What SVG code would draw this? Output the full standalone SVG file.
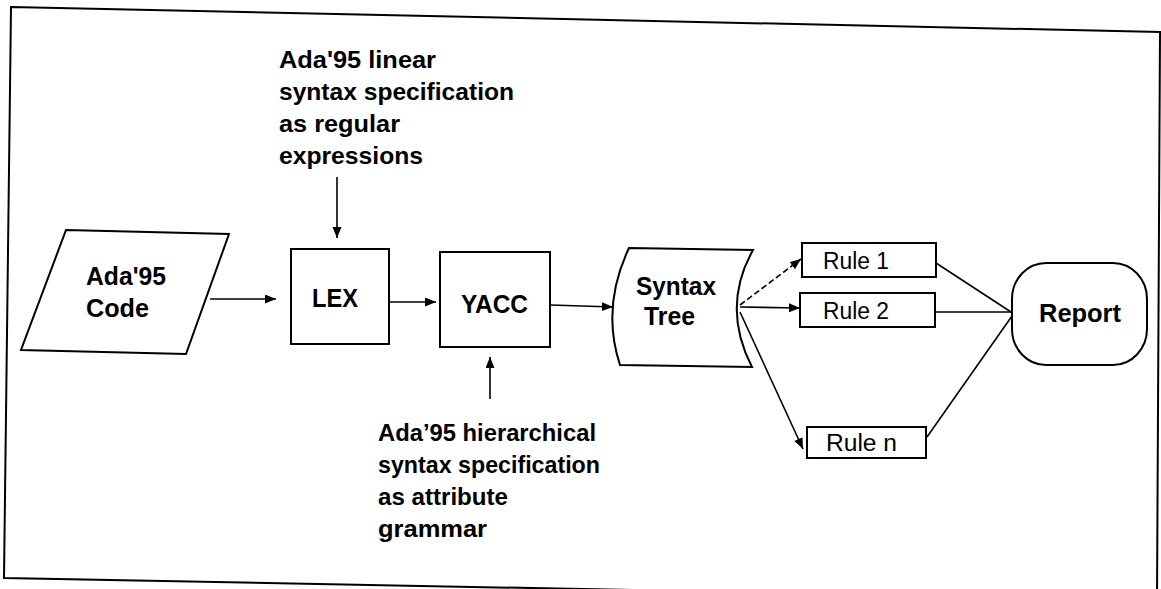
<svg xmlns="http://www.w3.org/2000/svg" width="1161" height="589" viewBox="0 0 1161 589">
<defs>
<style>
.shape{fill:#fff;stroke:#000;stroke-width:2}
.lbl{font-family:"Liberation Sans",Arial,sans-serif;font-weight:bold;font-size:25px;fill:#000}
.ann{font-family:"Liberation Sans",Arial,sans-serif;font-weight:bold;font-size:24px;fill:#000}
.rule{font-family:"Liberation Sans",Arial,sans-serif;font-size:23px;fill:#000}
.conn{fill:none;stroke:#000;stroke-width:1.6}
</style>
<marker id="arr" markerUnits="userSpaceOnUse" markerWidth="12" markerHeight="10" refX="11" refY="4.5" orient="auto">
<path d="M0,0 L11,4.5 L0,9 Z" fill="#000"/>
</marker>
</defs>
<rect width="1161" height="589" fill="#fff"/>
<polygon points="11,7 1160,32 1157,600 4,578" fill="none" stroke="#000" stroke-width="2"/>

<g id="connectors">
<path class="conn" d="M210,299 L276,299" marker-end="url(#arr)"/>
<path class="conn" d="M390,302 L436,302" marker-end="url(#arr)"/>
<path class="conn" d="M551,305 L613,307" marker-end="url(#arr)"/>
<path class="conn" d="M337,177 L337,238" marker-end="url(#arr)"/>
<path class="conn" d="M490,399 L490,357" marker-end="url(#arr)"/>
<path class="conn" d="M740,305 L801,259" stroke-dasharray="6 3" marker-end="url(#arr)"/>
<path class="conn" d="M740,307 L800,308" marker-end="url(#arr)"/>
<path class="conn" d="M740,312 L803,449" marker-end="url(#arr)"/>
<path class="conn" d="M936,263 L1011,312"/>
<path class="conn" d="M935,312 L1011,312"/>
<path class="conn" d="M927,437 L1012,316"/>
</g>

<g id="ada-code">
<polygon class="shape" points="66,230 229,234 186,354 21,350"/>
<text class="lbl" x="86" y="285" textLength="80" lengthAdjust="spacingAndGlyphs">Ada'95</text>
<text class="lbl" x="86" y="317" textLength="63" lengthAdjust="spacingAndGlyphs">Code</text>
</g>

<g id="lex">
<rect class="shape" x="291" y="249" width="98" height="95"/>
<text class="lbl" x="312" y="307" textLength="46" lengthAdjust="spacingAndGlyphs">LEX</text>
</g>

<g id="yacc">
<rect class="shape" x="440" y="252" width="110" height="95"/>
<text class="lbl" x="461" y="313" textLength="67" lengthAdjust="spacingAndGlyphs">YACC</text>
</g>

<g id="syntax-tree">
<path class="shape" d="M629,248 L753,250 Q721,307 752,367 L620,365 Q601,307 629,248 Z"/>
<text class="lbl" x="636" y="295" textLength="80" lengthAdjust="spacingAndGlyphs">Syntax</text>
<text class="lbl" x="644" y="325" textLength="51" lengthAdjust="spacingAndGlyphs">Tree</text>
</g>

<g id="rule1">
<rect class="shape" x="802" y="243" width="134" height="34"/>
<text class="rule" x="823" y="269" textLength="66" lengthAdjust="spacingAndGlyphs">Rule 1</text>
</g>
<g id="rule2">
<rect class="shape" x="800" y="293" width="135" height="34"/>
<text class="rule" x="823" y="319" textLength="66" lengthAdjust="spacingAndGlyphs">Rule 2</text>
</g>
<g id="rulen">
<rect class="shape" x="807" y="427" width="119" height="31"/>
<text class="rule" x="826" y="451" textLength="71" lengthAdjust="spacingAndGlyphs">Rule n</text>
</g>

<g id="report">
<rect class="shape" x="1012" y="263" width="135" height="102" rx="34" ry="36"/>
<text class="lbl" x="1039" y="322" textLength="82" lengthAdjust="spacingAndGlyphs">Report</text>
</g>

<g id="lex-spec">
<text class="ann" x="279" y="68" textLength="157" lengthAdjust="spacingAndGlyphs">Ada'95 linear</text>
<text class="ann" x="279" y="100" textLength="235" lengthAdjust="spacingAndGlyphs">syntax specification</text>
<text class="ann" x="279" y="132" textLength="121" lengthAdjust="spacingAndGlyphs">as regular</text>
<text class="ann" x="279" y="164" textLength="144" lengthAdjust="spacingAndGlyphs">expressions</text>
</g>

<g id="yacc-spec">
<text class="ann" x="378" y="441" textLength="218" lengthAdjust="spacingAndGlyphs">Ada’95 hierarchical</text>
<text class="ann" x="378" y="473" textLength="222" lengthAdjust="spacingAndGlyphs">syntax specification</text>
<text class="ann" x="378" y="505" textLength="130" lengthAdjust="spacingAndGlyphs">as attribute</text>
<text class="ann" x="378" y="537" textLength="109" lengthAdjust="spacingAndGlyphs">grammar</text>
</g>
</svg>
